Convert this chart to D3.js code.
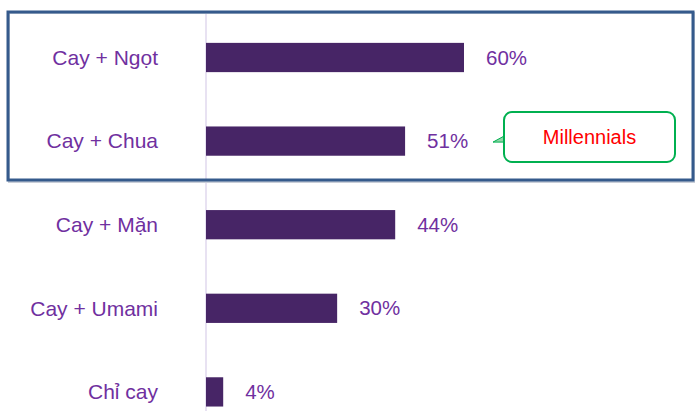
<!DOCTYPE html>
<html>
  <head>
    <meta charset="utf-8">
    <script src="https://d3js.org/d3.v7.min.js"></script>
    <style>
      body { margin: 0; background: white; }
      .cat { fill: #7030a0; font-family: "Liberation Sans", Arial, sans-serif; font-size: 21px; }
      .val { fill: #7030a0; font-family: "Liberation Sans", Arial, sans-serif; font-size: 20.5px; }
      .bar { fill: #472566; }
    </style>
  </head>
  <body>
    <div id="chart"></div>
<script>
// categories top to bottom
var categories = ["Cay + Ngọt", "Cay + Chua", "Cay + Mặn", "Cay + Umami", "Chỉ cay"];
// bar lengths as drawn in the picture (percent)
var barValues = [60, 46.3, 44, 30.5, 4];
// printed value labels
var valueLabels = ["60%", "51%", "44%", "30%", "4%"];
var calloutText = "Millennials";

var width = 700, height = 418;

var svg = d3.select("#chart").append("svg")
  .attr("width", width)
  .attr("height", height);

var x = d3.scaleLinear()
  .domain([0, 60])
  .range([206, 464]);

var y = d3.scaleBand()
  .domain(categories)
  .range([15.7, 433.7])
  .paddingInner(0.65)
  .paddingOuter(0.325);

// faint axis line
svg.append("line")
  .attr("x1", x(0)).attr("x2", x(0))
  .attr("y1", 14).attr("y2", 411)
  .attr("stroke", "#e8e2f2")
  .attr("stroke-width", 2);

svg.selectAll(".bar")
  .data(categories)
  .enter().append("rect")
  .attr("class", "bar")
  .attr("x", x(0))
  .attr("y", function (d) { return y(d); })
  .attr("width", function (d, i) { return x(barValues[i]) - x(0); })
  .attr("height", y.bandwidth());

svg.selectAll(".cat")
  .data(categories)
  .enter().append("text")
  .attr("class", "cat")
  .attr("x", 158)
  .attr("y", function (d) { return y(d) + y.bandwidth() / 2; })
  .attr("dy", "0.35em")
  .attr("text-anchor", "end")
  .text(function (d) { return d; });

svg.selectAll(".val")
  .data(categories)
  .enter().append("text")
  .attr("class", "val")
  .attr("x", function (d, i) { return x(barValues[i]) + 22; })
  .attr("y", function (d) { return y(d) + y.bandwidth() / 2; })
  .attr("dy", "0.35em")
  .text(function (d, i) { return valueLabels[i]; });

// highlight box around the top two rows
svg.append("rect")
  .attr("x", 9).attr("y", 13)
  .attr("width", 685).attr("height", 169)
  .attr("fill", "none")
  .attr("stroke", "#c9ced8")
  .attr("stroke-width", 2);
svg.append("rect")
  .attr("x", 8).attr("y", 12)
  .attr("width", 685).attr("height", 168)
  .attr("fill", "none")
  .attr("stroke", "#355a8c")
  .attr("stroke-width", 3);

// callout
var cy = y(categories[1]) + y.bandwidth() / 2;
svg.append("path")
  .attr("d", "M493," + (cy + 1) + " L504," + (cy - 5) + " L504," + (cy + 1) + " Z")
  .attr("fill", "#8fd6a8")
  .attr("stroke", "#00b050")
  .attr("stroke-width", 1);
svg.append("rect")
  .attr("x", 504).attr("y", 112)
  .attr("width", 171).attr("height", 50)
  .attr("rx", 8)
  .attr("fill", "white")
  .attr("stroke", "#00b050")
  .attr("stroke-width", 2);
svg.append("text")
  .attr("x", 589.5).attr("y", 137)
  .attr("dy", "0.35em")
  .attr("text-anchor", "middle")
  .attr("fill", "#ff0000")
  .style("font-family", "Liberation Sans, Arial, sans-serif")
  .style("font-size", "20px")
  .text(calloutText);
</script>
  </body>
</html>
